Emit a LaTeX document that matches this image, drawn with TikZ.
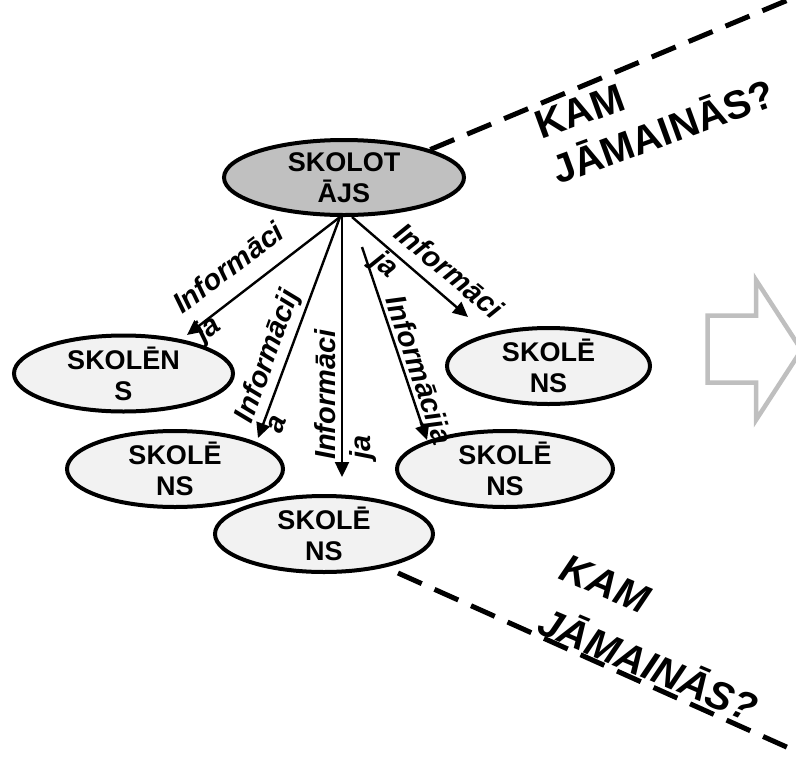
\documentclass[tikz,border=0pt]{standalone}
\usepackage{fontspec}
\setmainfont{Liberation Sans}
\usetikzlibrary{shapes.geometric,arrows.meta}
\definecolor{skfill}{HTML}{C0C0C0}
\definecolor{stfill}{HTML}{F2F2F2}
\definecolor{bigarrow}{HTML}{BFBFBF}
\begin{document}
\begin{tikzpicture}[x=1pt,y=-1pt,
  ell/.style={ellipse, draw=black, line width=4pt, inner sep=0pt, align=center,
    font=\fontsize{27}{31}\selectfont\bfseries},
  lbl/.style={align=left, inner sep=0pt, anchor=base west,
    font=\fontsize{29}{35}\selectfont\bfseries\itshape},
  arr/.style={line width=2.4pt, -{Triangle[length=15pt,width=14pt]}},
  dsh/.style={line width=5pt, dash pattern=on 26pt off 14pt},
  question/.style={align=left, inner sep=0pt, anchor=base west}
]
\useasboundingbox (0,0) rectangle (796,756);
\clip (0,0) rectangle (796,756);

% big hollow arrow on the right
\draw[bigarrow, line width=4.5pt, fill=white, line join=miter]
  (707.5,315.5) -- (756,315.5) -- (756,280) -- (801.5,350) -- (756,420)
  -- (756,382.5) -- (707.5,382.5) -- cycle;

% ellipses
\node[ell, fill=skfill, minimum width=240pt, minimum height=75pt] (sk) at (344,177.5) {SKOLOT\\ĀJS};
\node[ell, fill=stfill, minimum width=219pt, minimum height=73pt] (s1) at (123.5,373.5) {SKOLĒN\\S};
\node[ell, fill=stfill, minimum width=216pt, minimum height=74pt] (s2) at (175,469) {SKOLĒ\\NS};
\node[ell, fill=stfill, minimum width=218pt, minimum height=74pt] (s3) at (324,534) {SKOLĒ\\NS};
\node[ell, fill=stfill, minimum width=216pt, minimum height=74pt] (s4) at (505,469) {SKOLĒ\\NS};
\node[ell, fill=stfill, minimum width=203pt, minimum height=74pt] (s5) at (548.5,366) {SKOLĒ\\NS};

% arrow end points
\coordinate (e1) at (187,335);
\coordinate (e2) at (258,438);
\coordinate (e3) at (342,477);
\coordinate (e4) at (427,440);
\coordinate (e5) at (468,317);
\coordinate (a4) at (362,247);

\draw[arr] ([xshift=-4pt]sk.south) -- (e1);
\draw[arr] ([xshift=-4pt]sk.south) -- (e2);
\draw[arr] ([xshift=-2pt]sk.south) -- (e3);
\draw[arr] (a4) -- (e4);
\draw[arr] ([xshift=8pt]sk.south) -- (e5);

% arrow labels (anchor = baseline start of the last line)
\node[lbl, rotate=37] (l1) at (203,343) {Informāci\\ja};
\node[lbl, rotate=70, font=\fontsize{29}{31}\selectfont\bfseries\itshape] (l2) at (281,435) {Informācij\\a};
\node[lbl, rotate=90] (l3) at (370,460) {Informāci\\ja};
\node[lbl, rotate=-71.4, anchor=base] (l4) at (410,373) {Informācija};
\node[lbl, rotate=-40] (l5) at (370,263) {Informāci\\ja};

% dashed lines
\coordinate (d1) at (800,-5);
\coordinate (d2s) at (398,573);
\coordinate (d2e) at (800,753);
\draw[dsh] (sk.north east) -- (d1);
\draw[dsh] (d2s) -- (d2e);

% questions
\node[question, rotate=20, font=\fontsize{40}{48}\selectfont\bfseries] (q1) at (558,185) {KAM\\JĀMAINĀS?};
\node[question, rotate=-23, font=\fontsize{40}{58}\selectfont\bfseries\itshape] (q2) at (535,632) {KAM\\JĀMAINĀS?};
\end{tikzpicture}
\end{document}
